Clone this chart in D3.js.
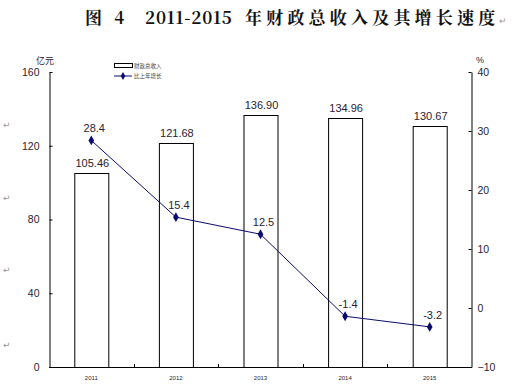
<!DOCTYPE html>
<html>
<head>
<meta charset="utf-8">
<script src="https://cdn.jsdelivr.net/npm/d3@7"></script>
<style>
  body { margin: 0; background: #fff; }
  svg { display: block; }
</style>
</head>
<body>
<svg width="514" height="389"></svg>
<script>
const years = ["2011", "2012", "2013", "2014", "2015"];
const revenue = [105.46, 121.68, 136.90, 134.96, 130.67];
const growth = [28.4, 15.4, 12.5, -1.4, -3.2];
const leftTicks = [0, 40, 80, 120, 160];
const rightTicks = [-10, 0, 10, 20, 30, 40];

const svg = d3.select("svg");
const textColor = "#2a2233";
const lineColor = "#0a0a70";
const markY = [128, 201, 273, 348];
const sansFont = "'Liberation Sans', Arial, sans-serif";

const x = d3.scaleBand()
  .domain(years)
  .range([49, 472])
  .paddingInner(0.598)
  .paddingOuter(0.299);

const yLeft = d3.scaleLinear().domain([0, 160]).range([367, 72]);
const yRight = d3.scaleLinear().domain([-10, 40]).range([367, 72]);

// title
const title = svg.append("text")
  .attr("x", 85)
  .attr("y", 24)
  .attr("font-family", "'Noto Serif CJK SC', 'Noto Sans CJK SC', serif")
  .attr("font-weight", "bold")
  .attr("font-size", 17)
  .attr("fill", "#111");
title.append("tspan").text("图 4").attr("letter-spacing", 4);
title.append("tspan").attr("x", 145).text("2011-2015").attr("letter-spacing", 0.8);
title.append("tspan").attr("x", 245).text("年财政总收入及其增长速度").attr("letter-spacing", 4.2);
title.append("tspan").text("↵").attr("font-size", 9).attr("font-weight", "normal").attr("fill", "#999");

// word paragraph marks on the left
svg.append("g").selectAll("text")
  .data(markY)
  .join("text")
  .attr("x", 3)
  .attr("y", d => d)
  .attr("font-size", 9)
  .attr("fill", "#999")
  .attr("font-family", "DejaVu Sans")
  .text("↵");

// bars
svg.append("g")
  .selectAll("rect")
  .data(revenue)
  .join("rect")
  .attr("x", (d, i) => x(years[i]) + 0.5)
  .attr("y", d => Math.round(yLeft(d)) + 0.5)
  .attr("width", x.bandwidth())
  .attr("height", d => yLeft(0) - Math.round(yLeft(d)))
  .attr("fill", "#fff")
  .attr("stroke", "#000")
  .attr("stroke-width", 1);

svg.append("g")
  .selectAll("text")
  .data(revenue)
  .join("text")
  .attr("x", (d, i) => x(years[i]) + x.bandwidth() / 2 + 1)
  .attr("y", d => yLeft(d) - 6)
  .attr("text-anchor", "middle")
  .attr("font-family", sansFont)
  .attr("font-size", 11)
  .attr("fill", textColor)
  .text(d => d.toFixed(2));

// left axis
const leftAxis = svg.append("g")
  .attr("transform", "translate(49.5,0)")
  .call(d3.axisLeft(yLeft).tickValues(leftTicks).tickSize(-3).tickPadding(10).tickSizeOuter(0));
leftAxis.selectAll("text")
  .attr("font-family", sansFont)
  .attr("font-size", 10.5)
  .attr("fill", textColor);

// right axis
const rightAxis = svg.append("g")
  .attr("transform", "translate(471.5,0)")
  .call(d3.axisRight(yRight).tickValues(rightTicks).tickSize(-3).tickPadding(6).tickSizeOuter(0));
rightAxis.selectAll("text")
  .attr("font-family", sansFont)
  .attr("font-size", 10.5)
  .attr("fill", textColor);

// bottom axis
const bottom = svg.append("g");
bottom.append("line")
  .attr("x1", 49).attr("x2", 472)
  .attr("y1", 367.5).attr("y2", 367.5)
  .attr("stroke", "#000");
const bounds = years.slice(1).map(y => x(y) - x.step() * x.paddingInner() / 2);
bottom.selectAll("line.tick")
  .data(bounds)
  .join("line")
  .attr("class", "tick")
  .attr("x1", d => Math.round(d) + 0.5)
  .attr("x2", d => Math.round(d) + 0.5)
  .attr("y1", 367)
  .attr("y2", 364)
  .attr("stroke", "#000");
bottom.selectAll("text")
  .data(years)
  .join("text")
  .attr("x", d => x(d) + x.bandwidth() / 2)
  .attr("y", 380)
  .attr("text-anchor", "middle")
  .attr("font-family", sansFont)
  .attr("font-size", 6)
  .attr("fill", textColor)
  .text(d => d);

// axis units
svg.append("text")
  .attr("x", 36).attr("y", 64)
  .attr("font-family", "'Noto Sans CJK SC', sans-serif")
  .attr("font-size", 9)
  .attr("fill", textColor)
  .text("亿元");
svg.append("text")
  .attr("x", 476).attr("y", 63)
  .attr("font-family", sansFont)
  .attr("font-size", 9)
  .attr("fill", textColor)
  .text("%");

// growth line
const line = d3.line()
  .x((d, i) => x(years[i]) + x.bandwidth() / 2)
  .y(d => yRight(d));

svg.append("path")
  .datum(growth)
  .attr("d", line)
  .attr("fill", "none")
  .attr("stroke", lineColor)
  .attr("stroke-width", 1);

svg.append("g")
  .selectAll("path")
  .data(growth)
  .join("path")
  .attr("transform", (d, i) => `translate(${x(years[i]) + x.bandwidth() / 2},${yRight(d)})`)
  .attr("d", d3.symbol(d3.symbolDiamond, 28))
  .attr("fill", lineColor);

svg.append("g")
  .selectAll("text")
  .data(growth)
  .join("text")
  .attr("x", (d, i) => x(years[i]) + x.bandwidth() / 2 + 3)
  .attr("y", d => yRight(d) - 8)
  .attr("text-anchor", "middle")
  .attr("font-family", sansFont)
  .attr("font-size", 11)
  .attr("fill", textColor)
  .text(d => d.toFixed(1));

// legend
const legend = svg.append("g").attr("font-family", "'Noto Sans CJK SC', sans-serif").attr("font-size", 5.5).attr("fill", "#444");
legend.append("rect")
  .attr("x", 114.5).attr("y", 63.5)
  .attr("width", 18).attr("height", 4)
  .attr("fill", "#fff").attr("stroke", "#000");
legend.append("text").attr("x", 134).attr("y", 67.5).text("财政总收入");
legend.append("line")
  .attr("x1", 114).attr("x2", 132)
  .attr("y1", 76).attr("y2", 76)
  .attr("stroke", lineColor);
legend.append("path")
  .attr("transform", "translate(123,76)")
  .attr("d", d3.symbol(d3.symbolDiamond, 18))
  .attr("fill", lineColor);
legend.append("text").attr("x", 134).attr("y", 78).text("比上年增长");
</script>
</body>
</html>
